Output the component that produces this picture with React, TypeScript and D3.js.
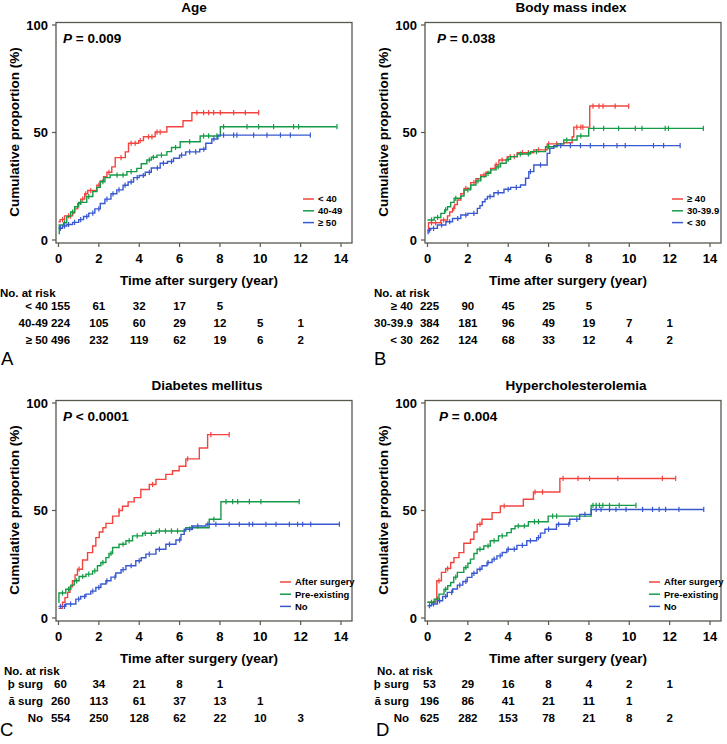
import React from "react";
import * as d3 from "d3";

type Pt = [number, number];

const RED = "#f2443f";
const GREEN = "#159b47";
const BLUE = "#3858d0";
const FRAME = "#58584f";
const FONT = "'Liberation Sans', Arial, sans-serif";

const yearTicks = [0, 2, 4, 6, 8, 10, 12, 14];
const pctTicks = [0, 50, 100];

// A: Age
const ageLt40: Pt[] = [[0, 8.5], [0.08, 9.5], [0.3, 11.2], [0.7, 12.5], [0.8, 14.5], [0.95, 17], [1.1, 19], [1.3, 21.5], [1.45, 23], [1.9, 25.5], [2.07, 27.5], [2.23, 29.5], [2.4, 31.5], [2.64, 34], [2.81, 38.3], [3.31, 41], [3.47, 45], [3.97, 46.2], [4.21, 48], [4.79, 50.2], [5.37, 52.7], [6.17, 55.5], [6.61, 59.2], [9.92, 59.2]];
const ageLt40Cens = [0.2, 0.5, 0.6, 1.2, 1.35, 1.6, 2.0, 2.5, 3.1, 3.6, 3.8, 4.05, 4.46, 4.63, 4.88, 5.04, 6.86, 7.19, 7.44, 7.69, 8.02, 8.68, 9.26, 9.92];
const age4049: Pt[] = [[0, 3], [0.04, 7], [0.25, 8], [0.41, 10.9], [0.6, 13], [0.8, 15.5], [1.0, 17.5], [1.4, 20.2], [1.7, 22.5], [1.9, 24.5], [2.07, 27.1], [2.3, 29], [2.56, 30.2], [3.39, 31.8], [3.88, 33.3], [4.1, 35.5], [4.38, 37.2], [4.6, 38.5], [4.88, 39.5], [5.37, 41.1], [5.6, 43], [6.03, 45.7], [7.02, 48.4], [8.02, 52.7], [13.8, 52.7]];
const age4049Cens = [0.3, 0.7, 1.1, 1.5, 2.2, 2.9, 3.2, 3.6, 4.5, 4.7, 5.1, 5.8, 6.5, 7.19, 7.44, 7.85, 8.18, 9.34, 9.92, 10.66, 11.65, 11.9, 13.8];
const ageGe50: Pt[] = [[0, 5.5], [0.2, 6.5], [0.41, 7.2], [0.7, 8.2], [1.0, 9.5], [1.24, 10.9], [1.5, 12.5], [1.8, 14.5], [2.07, 17], [2.3, 19], [2.6, 21.5], [2.89, 23.3], [3.2, 25.5], [3.45, 27], [3.72, 29], [4.0, 30], [4.3, 31.5], [4.6, 33.5], [5.04, 35.7], [5.4, 36.5], [5.7, 38], [6.0, 39.5], [6.3, 41], [7.0, 42.2], [7.3, 45], [7.6, 47], [7.9, 48.8], [12.5, 48.8]];
const ageGe50Cens = [0.1, 0.3, 0.5, 0.8, 1.1, 1.4, 1.7, 2.0, 2.4, 2.7, 3.0, 3.3, 3.6, 3.9, 4.2, 4.5, 4.9, 5.2, 5.6, 6.1, 6.5, 6.8, 7.2, 7.7, 8.18, 8.68, 8.84, 9.67, 10.33, 11.0, 11.49, 12.48];
const ageRiskLt40 = [155, 61, 32, 17, 5];
const ageRisk4049 = [224, 105, 60, 29, 12, 5, 1];
const ageRiskGe50 = [496, 232, 119, 62, 19, 6, 2];

// B: Body mass index
const bmiGe40: Pt[] = [[0, 4.5], [0.05, 8], [0.66, 9.3], [0.99, 11.2], [1.1, 13], [1.24, 14.7], [1.35, 16.5], [1.48, 18.6], [1.65, 21.5], [1.81, 24], [2.14, 26.7], [2.4, 28.5], [2.64, 30.2], [2.9, 31.5], [3.13, 33.3], [3.35, 35], [3.54, 37.2], [3.95, 38.8], [4.45, 40.6], [5.27, 41.9], [5.93, 44.7], [6.75, 45.2], [7.17, 48], [7.25, 52.5], [8.04, 62.3], [9.97, 62.3]];
const bmiGe40Cens = [0.2, 0.4, 0.8, 1.3, 1.9, 2.3, 2.8, 3.4, 3.7, 4.1, 4.3, 4.7, 5.0, 5.5, 6.0, 6.4, 7.4, 7.6, 7.7, 8.2, 8.5, 8.7, 9.3, 9.97];
const bmi3039: Pt[] = [[0, 9.3], [0.33, 10.5], [0.66, 12.4], [0.85, 14], [0.99, 15.5], [1.15, 17.5], [1.32, 19.4], [1.65, 20.5], [1.81, 23.3], [2.14, 25.6], [2.4, 27.5], [2.64, 29.5], [2.9, 31], [3.13, 32.6], [3.4, 34], [3.62, 35.7], [3.9, 37.5], [4.12, 38.8], [4.45, 40], [5.1, 41.1], [5.85, 43.4], [6.43, 44.7], [6.75, 46.5], [7.41, 48.4], [7.99, 51.9], [13.67, 51.9]];
const bmi3039Cens = [0.2, 0.5, 0.9, 1.4, 2.0, 2.5, 3.0, 3.5, 4.0, 4.6, 5.0, 5.4, 6.0, 6.9, 7.6, 8.24, 8.73, 9.47, 10.3, 10.63, 11.78, 11.94, 13.67];
const bmiLt30: Pt[] = [[0, 3], [0.03, 4.6], [0.16, 5.4], [0.49, 7], [0.91, 8.5], [1.24, 10], [1.65, 11.6], [2.0, 12.4], [2.47, 14.7], [2.6, 16], [2.72, 17.8], [2.85, 19], [2.97, 20.2], [3.29, 22], [3.79, 23.6], [4.12, 24.5], [4.61, 25.6], [4.86, 28.7], [5.02, 31.8], [5.27, 34.9], [5.93, 40.3], [6.06, 42.6], [6.26, 43.9], [12.52, 43.9]];
const bmiLt30Cens = [0.1, 0.3, 0.7, 1.1, 1.5, 1.9, 2.3, 3.1, 3.5, 4.0, 4.4, 5.1, 5.6, 6.6, 7.08, 7.58, 8.07, 8.73, 9.39, 9.8, 11.2, 11.7, 12.52];
const bmiRiskGe40 = [225, 90, 45, 25, 5];
const bmiRisk3039 = [384, 181, 96, 49, 19, 7, 1];
const bmiRiskLt30 = [262, 124, 68, 33, 12, 4, 2];

// C: Diabetes mellitus
const dmAfter: Pt[] = [[0, 4.5], [0.2, 7.3], [0.32, 9.5], [0.45, 11.9], [0.57, 14.5], [0.69, 17.3], [0.82, 20], [0.94, 22.7], [1.19, 27], [1.44, 30.4], [1.69, 33.5], [1.85, 37.4], [2.02, 40], [2.2, 42], [2.35, 44], [2.68, 47.4], [3.0, 50], [3.17, 52], [3.45, 54], [3.75, 56], [4.08, 59.8], [4.5, 62.1], [4.83, 64.5], [5.32, 66.8], [5.65, 68.5], [5.98, 70.6], [6.31, 74], [6.98, 79.1], [7.39, 85.3], [8.46, 85.3]];
const dmAfterCens = [1.02, 3.0, 4.66, 6.4, 7.55, 8.46];
const dmPre: Pt[] = [[0, 7.3], [0.02, 11.6], [0.36, 13.4], [0.61, 15.3], [0.78, 17.3], [1.02, 19.3], [1.36, 20.4], [1.69, 21.9], [1.93, 24.3], [2.1, 25.8], [2.35, 28.1], [2.5, 30], [2.68, 32.8], [3.0, 34.3], [3.34, 35.9], [3.67, 38.2], [4.17, 39.4], [4.83, 40.5], [6.31, 42], [7.47, 45.9], [8.05, 54.1], [11.93, 54.1]];
const dmPreCens = [0.2, 0.5, 0.9, 1.2, 1.5, 1.8, 2.2, 2.6, 3.2, 3.5, 3.9, 4.3, 4.6, 5.0, 5.3, 5.6, 5.9, 6.6, 7.7, 8.3, 8.63, 8.88, 9.46, 10.03, 11.93];
const dmNo: Pt[] = [[0, 5.4], [0.36, 6.5], [0.86, 8.8], [1.1, 10], [1.36, 11.1], [1.6, 12.5], [1.85, 14.2], [2.1, 15.8], [2.35, 17.3], [2.6, 19], [2.84, 20.9], [3.1, 22.5], [3.34, 24.3], [3.83, 26.6], [4.1, 28], [4.33, 29.7], [4.83, 32], [5.32, 34.3], [5.82, 36.3], [6.07, 38.9], [6.23, 41.3], [6.64, 42.8], [7.31, 43.6], [13.92, 43.6]];
const dmNoCens = [0.1, 0.3, 0.6, 1.0, 1.3, 1.7, 2.0, 2.4, 2.8, 3.2, 3.6, 4.0, 4.5, 5.0, 5.5, 6.0, 6.5, 6.9, 7.4, 7.8, 8.46, 8.96, 9.45, 9.62, 10.28, 10.78, 11.44, 11.85, 12.1, 12.5, 13.92];
const dmRiskAfter = [60, 34, 21, 8, 1];
const dmRiskPre = [260, 113, 61, 37, 13, 1];
const dmRiskNo = [554, 250, 128, 62, 22, 10, 3];

// D: Hypercholesterolemia
const hcAfter: Pt[] = [[0, 7.3], [0.41, 8.8], [0.46, 17.3], [0.69, 21.2], [0.9, 23], [1.15, 25.8], [1.31, 28.1], [1.56, 30.4], [1.8, 34.8], [2.13, 36.6], [2.3, 40], [2.46, 43.6], [2.7, 45.9], [3.2, 49], [3.61, 52.1], [4.75, 55.2], [5.25, 58.6], [6.56, 64.9], [12.3, 64.9]];
const hcAfterCens = [0.57, 1.0, 2.6, 3.8, 5.33, 5.7, 6.72, 7.46, 8.03, 9.43, 11.64, 12.3];
const hcPre: Pt[] = [[0, 7.3], [0.33, 8.8], [0.57, 11.1], [0.82, 13.4], [1.0, 15], [1.15, 16.5], [1.3, 19], [1.48, 21.2], [1.8, 23.5], [2.0, 25.5], [2.13, 27.4], [2.3, 30], [2.46, 32], [2.79, 33.5], [3.11, 35.9], [3.52, 38.2], [3.93, 39.7], [4.15, 41.5], [4.34, 42.8], [5.0, 44.8], [5.98, 47.4], [8.11, 52.4], [10.33, 52.4]];
const hcPreCens = [0.2, 0.5, 0.9, 1.4, 1.9, 2.6, 3.0, 3.3, 3.7, 4.5, 4.8, 5.3, 5.5, 6.2, 6.4, 8.2, 8.36, 8.52, 8.69, 9.02, 9.5, 10.33];
const hcNo: Pt[] = [[0, 5.7], [0.2, 6.5], [0.49, 8], [0.75, 10], [0.98, 11.9], [1.25, 13.5], [1.48, 15.3], [1.75, 17], [1.97, 18.9], [2.2, 20.8], [2.46, 22.7], [2.7, 24.3], [2.95, 25.8], [3.2, 27.4], [3.44, 28.9], [3.7, 30.5], [3.93, 32], [4.43, 33.8], [4.92, 35.9], [5.41, 37.4], [5.6, 39.5], [5.82, 41.3], [6.39, 43.6], [7.05, 45.9], [7.54, 48.2], [8.11, 50.5], [13.69, 50.5]];
const hcNoCens = [0.1, 0.3, 0.6, 0.9, 1.2, 1.6, 1.9, 2.3, 2.6, 3.0, 3.3, 3.6, 4.0, 4.3, 4.7, 5.1, 5.5, 6.0, 6.5, 7.0, 7.4, 7.8, 8.36, 8.6, 9.02, 9.34, 9.84, 10.66, 11.15, 11.48, 11.8, 12.46, 13.69];
const hcRiskAfter = [53, 29, 16, 8, 4, 2, 1];
const hcRiskPre = [196, 86, 41, 21, 11, 1];
const hcRiskNo = [625, 282, 153, 78, 21, 8, 2];

const panels = [
  {
    letter: "A", title: "Age", titleX: 194, p: "= 0.009", pX: 63, ox: 0, oy: 0,
    legX: 303, legY: 199, legDy: 11.8, riskX: 48, noX: 0, letterX: 1, letterY: 365,
    groups: [
      { name: "< 40", risk: "< 40", color: RED, curve: ageLt40, cens: ageLt40Cens, n: ageRiskLt40 },
      { name: "40-49", risk: "40-49", color: GREEN, curve: age4049, cens: age4049Cens, n: ageRisk4049 },
      { name: "≥ 50", risk: "≥ 50", color: BLUE, curve: ageGe50, cens: ageGe50Cens, n: ageRiskGe50 },
    ],
  },
  {
    letter: "B", title: "Body mass index", titleX: 202, p: "= 0.038", pX: 68, ox: 369, oy: 0,
    legX: 303, legY: 199, legDy: 11.8, riskX: 44, noX: 5, letterX: 5, letterY: 365,
    groups: [
      { name: "≥ 40", risk: "≥ 40", color: RED, curve: bmiGe40, cens: bmiGe40Cens, n: bmiRiskGe40 },
      { name: "30-39.9", risk: "30-39.9", color: GREEN, curve: bmi3039, cens: bmi3039Cens, n: bmiRisk3039 },
      { name: "< 30", risk: "< 30", color: BLUE, curve: bmiLt30, cens: bmiLt30Cens, n: bmiRiskLt30 },
    ],
  },
  {
    letter: "C", title: "Diabetes mellitus", titleX: 207, p: "< 0.0001", pX: 63, ox: 0, oy: 378,
    legX: 280, legY: 204, legDy: 12.2, riskX: 43, noX: 4, letterX: 0, letterY: 358,
    groups: [
      { name: "After surgery", risk: "þ surg", color: RED, curve: dmAfter, cens: dmAfterCens, n: dmRiskAfter },
      { name: "Pre-existing", risk: "ā surg", color: GREEN, curve: dmPre, cens: dmPreCens, n: dmRiskPre },
      { name: "No", risk: "No", color: BLUE, curve: dmNo, cens: dmNoCens, n: dmRiskNo },
    ],
  },
  {
    letter: "D", title: "Hypercholesterolemia", titleX: 207, p: "= 0.004", pX: 70, ox: 369, oy: 378,
    legX: 280, legY: 204, legDy: 12.2, riskX: 40, noX: 8, letterX: 7, letterY: 358,
    groups: [
      { name: "After surgery", risk: "þ surg", color: RED, curve: hcAfter, cens: hcAfterCens, n: hcRiskAfter },
      { name: "Pre-existing", risk: "ā surg", color: GREEN, curve: hcPre, cens: hcPreCens, n: hcRiskPre },
      { name: "No", risk: "No", color: BLUE, curve: hcNo, cens: hcNoCens, n: hcRiskNo },
    ],
  },
];

const riskRows = [306, 323, 340];

function Panel({ cfg }: { cfg: any }) {
  const x = d3.scaleLinear().domain([0, 14]).range([58.5, 341]);
  const y = d3.scaleLinear().domain([0, 100]).range([240, 25]);
  const line = d3.line<Pt>().x(d => x(d[0])).y(d => y(d[1])).curve(d3.curveStepAfter);
  const bis = d3.bisector((d: Pt) => d[0]).right;
  const valueAt = (c: Pt[], t: number) => c[Math.max(0, bis(c, t) - 1)][1];

  return (
    <g transform={`translate(${cfg.ox},${cfg.oy})`} fontFamily={FONT} fontWeight="bold">
      <text x={cfg.titleX} y={12} textAnchor="middle" fontSize={13.5}>{cfg.title}</text>
      <rect x={56} y={22.5} width={296} height={220.5} fill="none" stroke={FRAME} strokeWidth={1.3} />
      {pctTicks.map(t => (
        <g key={t}>
          <line x1={52} x2={56} y1={y(t)} y2={y(t)} stroke={FRAME} strokeWidth={1.2} />
          <text x={48} y={y(t)} dy="0.35em" textAnchor="end" fontSize={13}>{t}</text>
        </g>
      ))}
      {yearTicks.map(t => (
        <g key={t}>
          <line x1={x(t)} x2={x(t)} y1={243} y2={247} stroke={FRAME} strokeWidth={1.2} />
          <text x={x(t)} y={258.5} dy="0.35em" textAnchor="middle" fontSize={13}>{t}</text>
        </g>
      ))}
      <text transform={`translate(19,132) rotate(-90)`} textAnchor="middle" fontSize={13.5}>
        Cumulative proportion (%)
      </text>
      <text x={199} y={280} dy="0.35em" textAnchor="middle" fontSize={13.5}>Time after surgery (year)</text>
      <text x={cfg.pX} y={43} fontSize={13.5}>
        <tspan fontStyle="italic">P</tspan> {cfg.p}
      </text>
      {cfg.groups.map((g: any, i: number) => (
        <g key={g.name}>
          <path d={line(g.curve) || ""} fill="none" stroke={g.color} strokeWidth={1.4} />
          {g.cens.map((t: number, j: number) => (
            <line key={j} x1={x(t)} x2={x(t)} y1={y(valueAt(g.curve, t)) - 2.6} y2={y(valueAt(g.curve, t)) + 2.6}
              stroke={g.color} strokeWidth={1.2} />
          ))}
          <line x1={cfg.legX} x2={cfg.legX + 11} y1={cfg.legY + i * cfg.legDy} y2={cfg.legY + i * cfg.legDy}
            stroke={g.color} strokeWidth={1.5} />
          <text x={cfg.legX + 15} y={cfg.legY + i * cfg.legDy} dy="0.35em" fontSize={9.5}>{g.name}</text>
          <text x={cfg.riskX} y={riskRows[i]} dy="0.35em" textAnchor="end" fontSize={11.5}>{g.risk}</text>
          {g.n.map((v: number, j: number) => (
            <text key={j} x={x(yearTicks[j]) + (j === 0 ? 2 : 0)} y={riskRows[i]} dy="0.35em" textAnchor="middle" fontSize={11.5}>{v}</text>
          ))}
        </g>
      ))}
      <text x={cfg.noX} y={293} dy="0.35em" fontSize={11.5}>No. at risk</text>
      <text x={cfg.letterX} y={cfg.letterY} fontSize={18.5} fontWeight="normal">{cfg.letter}</text>
    </g>
  );
}

export default function App() {
  return (
    <svg width={727} height={744} style={{ position: "absolute", left: 0, top: 0, background: "#fff" }}>
      {panels.map(p => <Panel key={p.letter} cfg={p} />)}
    </svg>
  );
}
